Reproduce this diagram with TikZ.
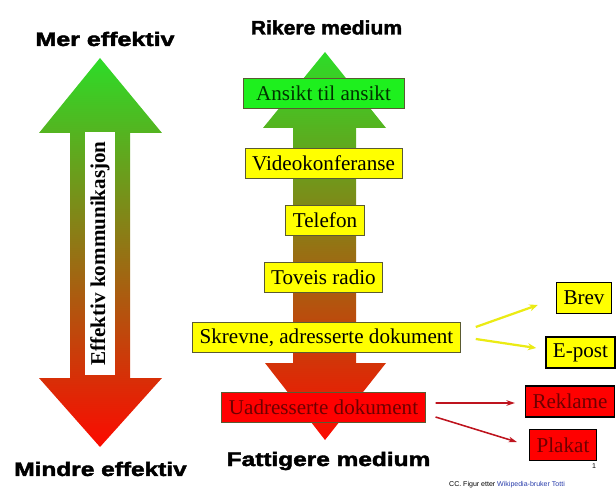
\documentclass[tikz,border=0pt]{standalone}
\usepackage{fontspec}
\setmainfont{Liberation Serif}
\newfontfamily\headfont{Liberation Sans}[BoldFeatures={FakeBold=2}]
\newfontfamily\smallfont{Liberation Sans}
\usetikzlibrary{arrows.meta}

\definecolor{topgreen}{RGB}{45,220,40}
\definecolor{midbrown}{RGB}{130,105,0}
\definecolor{botred}{RGB}{252,10,0}
\definecolor{boxgreen}{RGB}{30,240,30}
\definecolor{boxyellow}{RGB}{255,255,0}
\definecolor{boxred}{RGB}{255,0,0}
\definecolor{boxline}{RGB}{90,90,50}
\definecolor{redtext}{RGB}{110,0,0}
\definecolor{yelarrow}{RGB}{235,235,20}
\definecolor{redarrow}{RGB}{190,20,30}
\definecolor{linkblue}{RGB}{40,60,170}

\begin{document}
\begin{tikzpicture}[x=0.025cm,y=-0.025cm,
  head/.style={font=\headfont\bfseries\fontsize{13.9}{16}\selectfont, inner sep=0pt},
  medbox/.style={draw=boxline, line width=0.6pt, inner xsep=5pt, inner ysep=0pt,
    minimum height=0.77cm, font=\fontsize{15}{18}\selectfont},
  yelbox/.style={medbox, fill=boxyellow},
  redbox/.style={medbox, fill=boxred, text=redtext},
  sidebox/.style={draw=black, line width=1pt},
  yel/.style={yelarrow, line width=1.6pt, -{Stealth[length=6pt,width=5pt]}},
  red/.style={redarrow, line width=1.1pt, -{Stealth[length=6pt,width=4pt]}}
]
\useasboundingbox (0,0) rectangle (616,490);

% venstre pil
\shade[top color=topgreen, middle color=midbrown, bottom color=botred]
  (100,58) -- (162,133) -- (130,133) -- (130,378) -- (162,378) -- (100,447)
  -- (39,378) -- (70,378) -- (70,133) -- (39,133) -- cycle;
\node[fill=white, rotate=90, minimum width=6.05cm, minimum height=0.75cm,
  inner sep=0pt, font=\bfseries\fontsize{15}{18}\selectfont] (eff) at (100,253.5)
  {Effektiv kommunikasjon};
\node[head, xscale=1.28] (mer) at (105,39) {Mer effektiv};
\node[head, xscale=1.25] (mindre) at (100.5,469) {Mindre effektiv};

% hoeyre pil
\shade[top color=topgreen, middle color=midbrown, bottom color=botred]
  (325,52) -- (386,128) -- (356,128) -- (356,363) -- (386,363) -- (325,440)
  -- (265,363) -- (293,363) -- (293,128) -- (263,128) -- cycle;
\node[head, xscale=1.08] (rik) at (326.5,27.5) {Rikere medium};
\node[head, xscale=1.25] (fatt) at (328.5,461) {Fattigere medium};

% medier
\node[medbox, fill=boxgreen, text=black!80!green, minimum width=4.02cm] (ansikt) at (323.5,93.5) {Ansikt til ansikt};
\node[yelbox] (video) at (323.5,163.5) {Videokonferanse};
\node[yelbox] (tlf) at (325,220.5) {Telefon};
\node[yelbox] (radio) at (323.5,277.5) {Toveis radio};
\node[yelbox] (skrevne) at (326.5,337.5) {Skrevne, adresserte dokument};
\node[redbox] (uadr) at (323.5,407.5) {Uadresserte dokument};

% eksempler
\node[yelbox, sidebox] (brev) at (584,298) {Brev};
\node[yelbox, sidebox] (epost) at (580.5,352.5) {E-post};
\node[redbox, sidebox] (reklame) at (570,401.5) {Reklame};
\node[redbox, sidebox] (plakat) at (563,445) {Plakat};

\draw[yel] ([shift={(15,-10.5)}]skrevne.east) -- ([shift={(-18,7)}]brev.west);
\draw[yel] ([shift={(15,1.5)}]skrevne.east) -- ([shift={(-9,-4.5)}]epost.west);
\draw[red] ([shift={(10,-4.5)}]uadr.east) -- ([shift={(-10,1.5)}]reklame.west);
\draw[red] ([shift={(10,9.5)}]uadr.east) -- ([shift={(-12,-3)}]plakat.west);

\node[font=\smallfont\fontsize{5}{6}\selectfont, inner sep=0pt] (side) at (594,466) {1};
\node[font=\smallfont\fontsize{5}{6}\selectfont, inner sep=0pt] (kilde) at (507,485)
  {CC. Figur etter \textcolor{linkblue}{Wikipedia-bruker Totti}};
\end{tikzpicture}
\end{document}
